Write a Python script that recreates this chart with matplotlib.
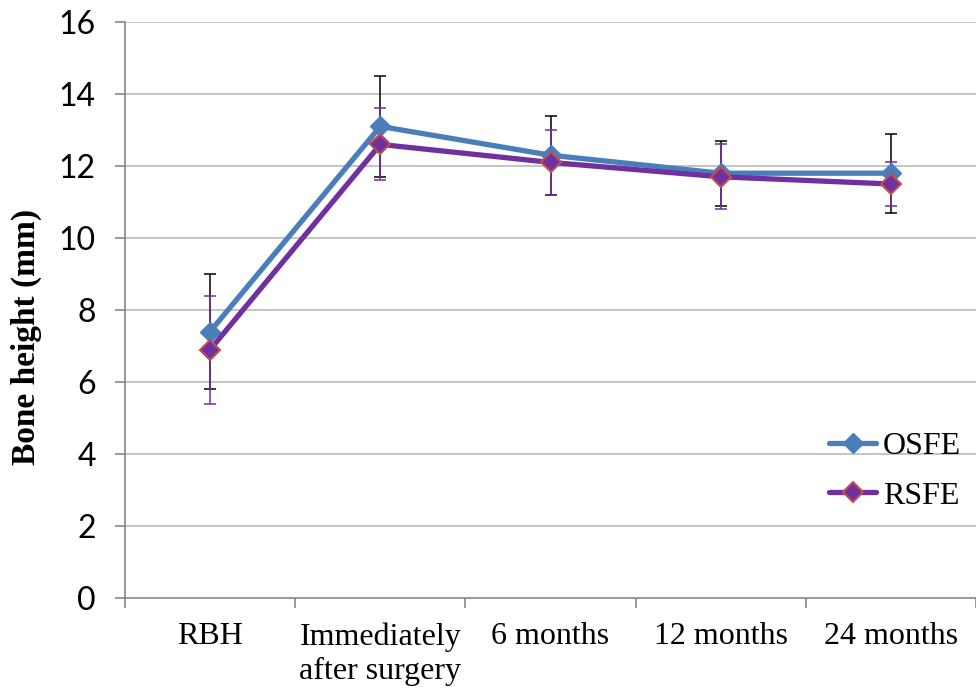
import matplotlib
matplotlib.use("Agg")
import matplotlib.pyplot as plt
import numpy as np

categories = ["RBH", "Immediately\nafter surgery", "6 months", "12 months", "24 months"]
osfe_mean = [7.4, 13.1, 12.3, 11.8, 11.8]
osfe_err = [1.6, 1.4, 1.1, 0.9, 1.1]
rsfe_mean = [6.9, 12.6, 12.1, 11.7, 11.5]
rsfe_err = [1.5, 1.0, 0.9, 0.9, 0.6]
yticks = [0, 2, 4, 6, 8, 10, 12, 14, 16]

serif = ["Liberation Serif", "DejaVu Serif"]
sans = ["Lato", "DejaVu Sans"]
FS = 23

fig = plt.figure(figsize=(9.76, 6.96), dpi=100)
ax = fig.add_axes([125/976, 1-598/696, 1-125/976, (598-22)/696])

x = np.arange(len(categories))
grid_c = "#BFBFBF"
for yv in yticks[1:]:
    ax.axhline(yv, color=grid_c, lw=1.3, zorder=0)

ax.errorbar(x, osfe_mean, yerr=osfe_err, fmt="none", ecolor="black", elinewidth=1.1,
            capsize=4.5, capthick=1.1, zorder=2)
ax.errorbar(x, rsfe_mean, yerr=rsfe_err, fmt="none", ecolor="#7030A0", elinewidth=1.1,
            capsize=4.5, capthick=1.1, zorder=2)
ax.plot(x, osfe_mean, color="#4A7EBB", lw=3.8, marker="D", ms=10,
        mfc="#4A7EBB", mec="#4A7EBB", label="OSFE", zorder=3, solid_capstyle="round")
ax.plot(x, rsfe_mean, color="#7030A0", lw=3.8, marker="D", ms=10,
        mfc="#7030A0", mec="#C0504D", mew=1.5, label="RSFE", zorder=4, solid_capstyle="round")

ax.set_xlim(-0.5, 4.5)
ax.set_ylim(0, 16)
ax.set_yticks(yticks)
ax.set_yticklabels([str(v) for v in yticks], fontfamily=sans, fontsize=FS)
ax.set_xticks(x)
ax.set_xticklabels(categories, fontfamily=serif, fontsize=FS, linespacing=1.22)
ax.set_xticks(np.arange(-0.5, 5.0, 1.0), minor=True)
ax.tick_params(axis="x", which="major", length=0, pad=17.5)
ax.tick_params(axis="x", which="minor", length=7, color="#868686", width=1.2)
ax.tick_params(axis="y", length=7, color="#868686", width=1.2, pad=14)

for s in ["top", "right"]:
    ax.spines[s].set_visible(False)
for s in ["left", "bottom"]:
    ax.spines[s].set_color("#868686")
    ax.spines[s].set_linewidth(1.2)

ax.set_ylabel("Bone height (mm)", fontfamily=serif, fontweight="bold", fontsize=24)
ax.yaxis.set_label_coords(-0.097, 0.453)

leg = ax.legend(loc="center left", bbox_to_anchor=(0.808, 0.22), frameon=False,
                prop={"family": serif, "size": FS}, handlelength=1.5, labelspacing=0.62,
                handletextpad=0.2, borderpad=0)

fig.savefig("out.png", dpi=100)
